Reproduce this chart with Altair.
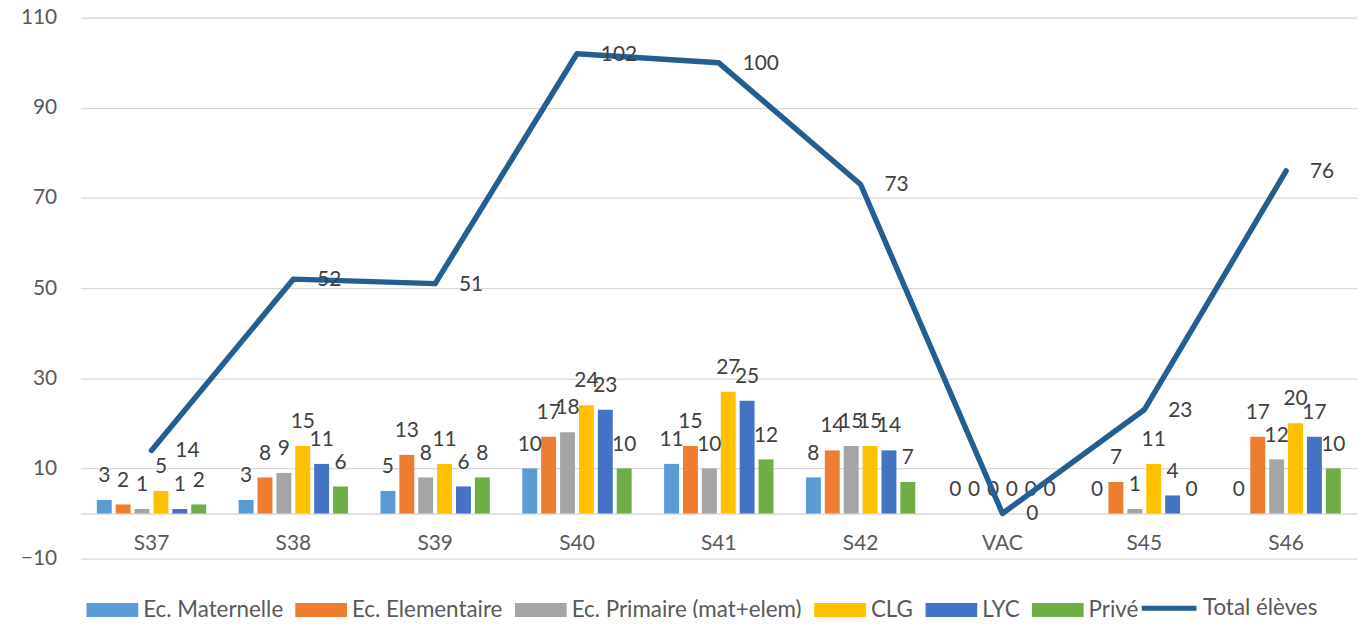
import altair as alt
import pandas as pd

weeks = ["S37", "S38", "S39", "S40", "S41", "S42", "VAC", "S45", "S46"]
series = ["Ec. Maternelle", "Ec. Elementaire", "Ec. Primaire (mat+elem)", "CLG", "LYC", "Privé"]
maternelle = [3, 3, 5, 10, 11, 8, 0, 0, 0]
elementaire = [2, 8, 13, 17, 15, 14, 0, 7, 17]
primaire = [1, 9, 8, 18, 10, 15, 0, 1, 12]
clg = [5, 15, 11, 24, 27, 15, 0, 11, 20]
lyc = [1, 11, 6, 23, 25, 14, 0, 4, 17]
prive = [2, 6, 8, 10, 12, 7, 0, 0, 10]
total = [14, 52, 51, 102, 100, 73, 0, 23, 76]
total_name = "Total élèves"
y_ticks = [-10, 10, 30, 50, 70, 90, 110]

colors = ["#5B9BD5", "#ED7D31", "#A5A5A5", "#FFC000", "#4472C4", "#70AD47"]
line_color = "#255E91"

cols = [maternelle, elementaire, primaire, clg, lyc, prive]
rows = []
for s, vals in zip(series, cols):
    for w, v in zip(weeks, vals):
        rows.append({"week": w, "series": s, "value": v})
df_bars = pd.DataFrame(rows)
df_line = pd.DataFrame({"week": weeks, "value": total, "name": [total_name] * len(weeks)})

FONT = "Lato"
W, H = 1284, 544
px_per_unit = H / 120.0

x_enc = alt.X(
    "week:N",
    sort=weeks,
    scale=alt.Scale(domain=weeks, paddingInner=0.229, paddingOuter=0.1145),
    axis=alt.Axis(
        title=None, grid=False, ticks=False, labelAngle=0,
        offset=-10 * px_per_unit, domainColor="#d9d9d9", domainWidth=1.5,
        labelPadding=19, labelFontSize=21, labelColor="#595959", labelFont=FONT,
    ),
)
y_scale = alt.Scale(domain=[-10, 110], nice=False, zero=False)
y_enc = alt.Y(
    "value:Q",
    scale=y_scale,
    axis=alt.Axis(
        title=None, values=y_ticks, domain=False, ticks=False,
        gridColor="#d9d9d9", gridWidth=1.3, labelPadding=24,
        labelFontSize=21, labelColor="#595959", labelFont=FONT,
    ),
)
xoff = alt.XOffset(
    "series:N", sort=series,
    scale=alt.Scale(domain=series, paddingInner=0.21, paddingOuter=0),
)

rect_path = "M-1,-0.27L1,-0.27L1,0.27L-1,0.27Z"

bars = alt.Chart(df_bars).mark_bar().encode(
    x=x_enc,
    xOffset=xoff,
    y=y_enc,
    color=alt.Color(
        "series:N",
        scale=alt.Scale(domain=series, range=colors),
        legend=alt.Legend(
            title=None, orient="none", direction="horizontal", columns=6,
            legendX=6, legendY=569.5, symbolType=rect_path, symbolSize=2704,
            symbolStrokeWidth=0, labelFontSize=22.5, labelColor="#595959",
            labelFont=FONT, labelOffset=5, columnPadding=12, labelLimit=0,
        ),
    ),
)

bar_labels = alt.Chart(df_bars).mark_text(
    baseline="alphabetic", align="center", dy=-18, fontSize=21, color="#404040", font=FONT
).encode(
    x=alt.X("week:N", sort=weeks),
    xOffset=xoff,
    y=alt.Y("value:Q"),
    text=alt.Text("value:Q"),
)

line = alt.Chart(df_line).mark_line(
    strokeWidth=5.5, strokeCap="round", strokeJoin="round"
).encode(
    x=alt.X("week:N", sort=weeks),
    y=alt.Y("value:Q"),
    stroke=alt.Stroke(
        "name:N",
        scale=alt.Scale(domain=[total_name], range=[line_color]),
        legend=alt.Legend(
            title=None, orient="none", legendX=1065, legendY=564,
            symbolType="stroke", symbolSize=3025, symbolStrokeWidth=5,
            labelFontSize=22.5, labelColor="#595959", labelFont=FONT,
            labelOffset=4, labelLimit=0,
        ),
    ),
)

line_labels = alt.Chart(df_line).mark_text(
    align="left", baseline="middle", dx=24, dy=1, fontSize=21, color="#404040", font=FONT
).encode(
    x=alt.X("week:N", sort=weeks),
    y=alt.Y("value:Q"),
    text=alt.Text("value:Q"),
)

chart = alt.layer(bars, bar_labels, line, line_labels).properties(
    width=W, height=H,
    autosize=alt.AutoSizeParams(type="none"),
    padding={"left": 73, "top": 8, "right": 1, "bottom": 58},
).configure(font=FONT).configure_view(stroke=None)

chart.save("out.html", embed_options={"renderer": "svg", "actions": False})
